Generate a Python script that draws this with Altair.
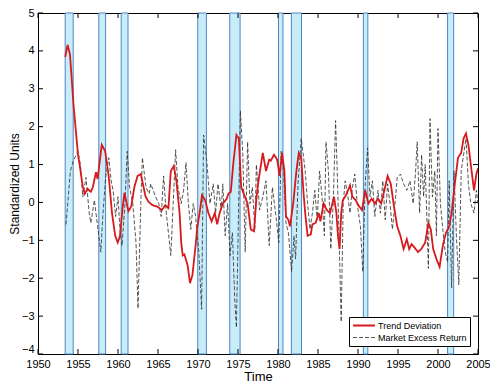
import altair as alt
import pandas as pd

# Trend deviation (red solid)
trend_year = [1953.4, 1953.7, 1954.0, 1954.45, 1955.0, 1955.25, 1955.6, 1955.85, 1956.2, 1956.6,
              1956.85, 1957.25, 1957.45, 1957.97, 1958.4, 1958.85, 1959.25, 1959.65, 1959.97, 1960.25,
              1960.55, 1960.8, 1961.3, 1961.65, 1962.05, 1962.45, 1962.85, 1963.45, 1963.8, 1964.3,
              1964.9, 1965.5, 1965.9, 1966.3, 1966.6, 1966.97, 1967.3, 1967.7, 1967.9, 1968.1,
              1968.3, 1968.7, 1969.0, 1969.3, 1969.7, 1969.9, 1970.2, 1970.5, 1970.9, 1971.3,
              1971.7, 1972.1, 1972.4, 1972.7, 1973.1, 1973.6, 1973.8, 1974.1, 1974.4, 1974.8,
              1975.1, 1975.4, 1975.8, 1976.2, 1976.6, 1977.0, 1977.3, 1977.5, 1978.1, 1978.5,
              1978.9, 1979.1, 1979.5, 1979.9, 1980.2, 1980.5, 1980.8, 1981.0, 1981.3, 1981.5,
              1981.9, 1982.3, 1982.6, 1982.9, 1983.2, 1983.4, 1983.7, 1984.1, 1984.3, 1984.7,
              1985.1, 1985.3, 1985.7, 1986.1, 1986.5, 1987.0, 1987.3, 1987.5, 1987.7, 1987.9,
              1988.1, 1988.5, 1989.0, 1989.3, 1989.7, 1990.1, 1990.5, 1990.9, 1991.3, 1991.7,
              1992.1, 1992.5, 1992.9, 1993.3, 1993.7, 1994.1, 1994.5, 1994.9, 1995.3, 1995.7,
              1996.1, 1996.4, 1996.7, 1997.1, 1997.5, 1997.9, 1998.4, 1998.8, 1999.1, 1999.4,
              1999.8, 2000.2, 2000.6, 2001.0, 2001.4, 2001.7, 2002.1, 2002.5, 2002.9, 2003.2,
              2003.5, 2003.8, 2004.2, 2004.5, 2004.8, 2005.0]
trend_val = [3.84, 4.16, 3.9, 2.55, 1.26, 0.93, 0.41, 0.23, 0.36, 0.28,
             0.4, 0.8, 0.62, 1.52, 1.35, 0.67, -0.28, -0.88, -1.06, -0.88,
             -0.2, 0.25, -0.23, -0.11, 0.41, 0.7, 0.75, 0.15, 0.02, -0.07,
             -0.11, -0.2, -0.07, -0.15, 0.83, 0.96, 0.57, -0.28, -1.06, -1.4,
             -1.37, -1.66, -2.13, -1.92, -1.14, -0.67, -0.28, 0.19, 0.06, -0.28,
             -0.5, -0.28, -0.58, -0.28, -0.03, 0.1, 0.23, 0.28, 1.0, 1.78,
             1.69, 0.4, 0.19, -0.03, -0.71, -0.76, 0.1, 0.49, 1.31, 0.83,
             1.13, 1.1, 1.26, 1.13, 0.7, 1.31, 0.83, -0.37, -0.46, -0.63,
             -0.03, 0.83, 1.31, 1.18, 0.23, -0.28, -0.88, -0.84, -0.58, -0.54,
             -0.28, -0.5, -0.03, -0.2, -0.28, 0.15, -0.28, -0.88, -1.23, -0.28,
             0.06, 0.19, 0.45, 0.15, 0.06, -0.09, -0.2, 0.32, -0.03, 0.1,
             -0.03, 0.1, -0.03, 0.32, 0.7, 0.49, -0.11, -0.63, -0.88, -1.23,
             -0.97, -1.23, -1.1, -1.2, -1.31, -1.23, -1.06, -0.54, -0.71, -1.23,
             -1.49, -1.7, -1.14, -0.8, -0.63, -0.28, 0.49, 1.18, 1.31, 1.69,
             1.82, 1.52, 0.83, 0.32, 0.75, 0.9]

# Market excess return (black dashed)
mkt_year = [1953.5, 1954.05, 1954.4, 1955.0, 1955.3, 1955.6, 1956.0, 1956.4, 1956.6, 1957.05,
            1957.45, 1957.85, 1958.1, 1958.45, 1958.85, 1959.15, 1959.4, 1959.7, 1960.0, 1960.25,
            1960.5, 1960.85, 1961.15, 1961.45, 1961.85, 1962.25, 1962.5, 1962.85, 1963.05, 1963.5,
            1963.9, 1964.1, 1964.7, 1965.1, 1965.4, 1965.7, 1966.0, 1966.3, 1966.6, 1966.9,
            1967.2, 1967.5, 1967.9, 1968.2, 1968.5, 1968.8, 1969.1, 1969.4, 1969.7, 1970.1,
            1970.45, 1970.7, 1971.1, 1971.5, 1971.9, 1972.2, 1972.5, 1972.9, 1973.1, 1973.4,
            1973.7, 1974.0, 1974.3, 1974.6, 1974.8, 1975.3, 1975.6, 1975.9, 1976.2, 1976.5,
            1976.8, 1977.1, 1977.3, 1977.7, 1978.1, 1978.5, 1978.9, 1979.3, 1979.7, 1980.1,
            1980.4, 1980.7, 1981.0, 1981.3, 1981.7, 1982.0, 1982.2, 1982.5, 1982.9, 1983.2,
            1983.4, 1983.7, 1984.0, 1984.3, 1984.6, 1984.9, 1985.2, 1985.5, 1985.8, 1986.0,
            1986.3, 1986.6, 1986.9, 1987.2, 1987.4, 1987.65, 1987.9, 1988.15, 1988.4, 1988.7,
            1989.0, 1989.3, 1989.6, 1989.9, 1990.3, 1990.6, 1990.9, 1991.2, 1991.5, 1991.8,
            1992.1, 1992.5, 1992.8, 1993.1, 1993.4, 1993.7, 1994.0, 1994.3, 1994.7, 1994.9,
            1995.3, 1995.7, 1996.1, 1996.5, 1996.9, 1997.2, 1997.4, 1997.7, 1997.95, 1998.2,
            1998.4, 1998.8, 1999.0, 1999.3, 1999.6, 1999.8, 2000.0, 2000.3, 2000.6, 2000.9,
            2001.2, 2001.4, 2001.7, 2002.0, 2002.3, 2002.6, 2002.9, 2003.2, 2003.5, 2003.8,
            2004.1, 2004.5, 2004.8, 2005.0]
mkt_val = [-0.58, 0.83, 1.09, 1.35, 1.0, 0.15, 0.66, -0.28, -0.54, 0.06,
           -0.63, -1.31, -0.37, 0.66, 1.18, 0.57, 0.3, -0.37, 0.15, -0.71,
           -1.14, -0.11, 1.35, 0.4, -0.03, -1.06, -2.8, -0.03, 1.18, 0.4,
           0.23, 0.49, 0.15, -0.03, -0.37, 0.7, -0.2, -0.8, -1.4, -0.03,
           1.39, 0.4, -0.03, 0.32, 1.05, -0.03, -0.71, -0.03, -0.37, -1.31,
           -2.82, 1.78, 1.09, -0.03, 0.49, -0.28, 0.49, -0.2, 0.49, -0.88,
           -0.03, -1.4, -0.8, -2.6, -3.3, 2.42, 1.26, -1.31, 1.6, -0.03,
           0.4, -0.71, 1.0, -0.2, 0.15, 0.57, -1.14, 0.4, -0.28, -1.06,
           1.35, 0.83, -0.54, -0.8, -1.83, -0.88, -1.49, 0.49, 1.69, 1.18,
           0.83, -0.03, -0.71, -0.28, 0.32, -0.46, 0.83, 0.15, -0.88, 1.6,
           0.83, -1.23, -0.03, 2.16, 0.83, -1.06, -3.15, -0.03, 0.57, 0.23,
           -0.28, 0.4, 0.75, -0.03, -0.63, -1.83, 0.49, 1.44, 0.15, 0.57,
           -0.37, 0.32, -0.28, 0.57, -0.46, 0.49, -0.03, -0.71, 0.15, 0.66,
           0.75, 0.49, 0.32, 0.57, -0.03, 0.83, 1.6, -0.28, 1.26, 0.15,
           1.0, -1.74, 2.21, 0.15, 0.83, -0.88, 1.95, -0.03, -0.71, -1.31,
           -1.57, 0.57, -2.26, 0.83, -0.88, -2.17, 0.83, 1.26, 1.69, 0.49,
           -0.03, -0.28, 0.32, -0.03]

# Recession bands
rec_start = [1953.4, 1957.6, 1960.4, 1969.97, 1973.97, 1980.06, 1981.67, 1990.67, 2001.2]
rec_end = [1954.4, 1958.45, 1961.25, 1971.05, 1975.26, 1980.62, 1982.94, 1991.23, 2001.96]

x_ticks = [1950, 1955, 1960, 1965, 1970, 1975, 1980, 1985, 1990, 1995, 2000, 2005]
y_ticks = [-4, -3, -2, -1, 0, 1, 2, 3, 4, 5]

series_names = ["Trend Deviation", "Market Excess Return"]

W, H = 440, 341
FONT = "Liberation Sans"

trend_df = pd.DataFrame({"year": trend_year, "value": trend_val, "series": series_names[0]})
mkt_df = pd.DataFrame({"year": mkt_year, "value": mkt_val, "series": series_names[1]})
rec_df = pd.DataFrame({"start": rec_start, "end": rec_end})
xt_df = pd.DataFrame({"t": x_ticks})
yt_df = pd.DataFrame({"t": y_ticks})

xscale = alt.Scale(domain=[1950, 2005], nice=False, zero=False)
yscale = alt.Scale(domain=[-4, 5], nice=False, zero=False)

xaxis = alt.Axis(values=x_ticks, format="d", title="Time", ticks=False, domain=False, grid=False,
                 labelFont=FONT, labelFontSize=11, labelColor="black", labelPadding=4,
                 titleFont=FONT, titleFontSize=13, titleFontWeight="normal", titleColor="black",
                 titlePadding=1, labelFlush=False)
yaxis = alt.Axis(values=y_ticks, format="d", title="Standardized Units", ticks=False, domain=False,
                 grid=False, labelFont=FONT, labelFontSize=11, labelColor="black", labelPadding=4,
                 labelBaseline={"condition": {"test": "datum.value === -4", "value": "bottom"},
                                "value": "middle"},
                 titleFont=FONT, titleFontSize=12, titleFontWeight="normal", titleColor="black",
                 titleX=-17, labelFlush=False)

bands = alt.Chart(rec_df).mark_rect(fill="#c9ecfa", stroke="#4f86bf", strokeWidth=1).encode(
    x=alt.X("start:Q", scale=xscale, axis=xaxis),
    x2="end:Q",
)

color_scale = alt.Scale(domain=series_names, range=["#d7191c", "#2b2b2b"])
dash_scale = alt.Scale(domain=series_names, range=[[1, 0], [4, 2]])
width_scale = alt.Scale(domain=series_names, range=[1.8, 0.8])
legend = alt.Legend(title=None, orient="bottom-right", offset=8, fillColor="white",
                    strokeColor="black", padding=3, labelFont=FONT, labelFontSize=9,
                    labelColor="black", symbolType="stroke", symbolSize=480, rowPadding=1,
                    labelOffset=2, clipHeight=11, labelLimit=200)


def line_layer(df):
    return alt.Chart(df).mark_line(clip=True).encode(
        x=alt.X("year:Q", scale=xscale, axis=xaxis),
        y=alt.Y("value:Q", scale=yscale, axis=yaxis),
        color=alt.Color("series:N", scale=color_scale, legend=legend),
        strokeDash=alt.StrokeDash("series:N", scale=dash_scale, legend=legend),
        strokeWidth=alt.StrokeWidth("series:N", scale=width_scale, legend=legend),
    )


mkt_line = line_layer(mkt_df)
trend_line = line_layer(trend_df)

tick_len = 5
xt_bottom = alt.Chart(xt_df).mark_rule(color="black", strokeWidth=1).encode(
    x=alt.X("t:Q", scale=xscale, axis=xaxis), y=alt.value(H), y2=alt.value(H - tick_len))
xt_top = alt.Chart(xt_df).mark_rule(color="black", strokeWidth=1).encode(
    x=alt.X("t:Q", scale=xscale, axis=xaxis), y=alt.value(0), y2=alt.value(tick_len))
yt_left = alt.Chart(yt_df).mark_rule(color="black", strokeWidth=1).encode(
    y=alt.Y("t:Q", scale=yscale, axis=yaxis), x=alt.value(0), x2=alt.value(tick_len))
yt_right = alt.Chart(yt_df).mark_rule(color="black", strokeWidth=1).encode(
    y=alt.Y("t:Q", scale=yscale, axis=yaxis), x=alt.value(W), x2=alt.value(W - tick_len))

chart = alt.layer(bands, xt_bottom, xt_top, yt_left, yt_right, mkt_line, trend_line).properties(
    width=W, height=H,
    autosize=alt.AutoSizeParams(type="none"),
    padding={"left": 30, "top": 5, "right": 12, "bottom": 28},
    background="white",
).configure_view(stroke="black", strokeWidth=1)

chart.save("out.html", embed_options={"renderer": "svg", "actions": False})
